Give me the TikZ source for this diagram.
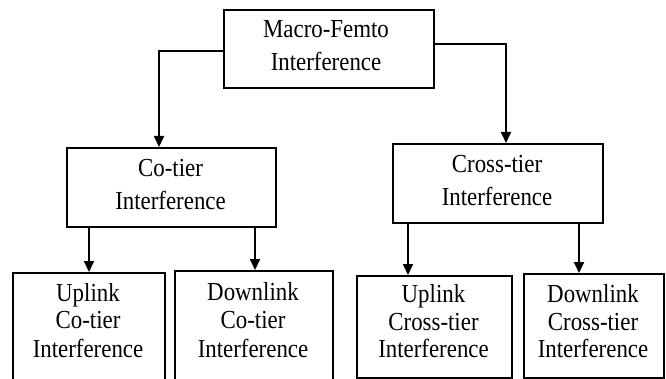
\documentclass[tikz,border=0pt]{standalone}
\usepackage{fontspec}
\setmainfont{Liberation Serif}[FakeStretch=0.88]
\usetikzlibrary{arrows.meta,calc}
\begin{document}
\begin{tikzpicture}[x=1pt,y=-1pt,
  box/.style={draw,line width=2pt,inner sep=0pt,anchor=north west},
  txt/.style={anchor=base,inner sep=0pt,font=\fontsize{26}{30}\selectfont},
  arr/.style={line width=2pt,-{Triangle[width=10pt,length=11pt]}}]
\useasboundingbox (0,0) rectangle (666,379);
\clip (0,0) rectangle (666,379);
% boxes
\node[box,minimum width=210pt,minimum height=78pt]  (top)  at (223,9)   {};
\node[box,minimum width=209pt,minimum height=79pt]  (cot)  at (66,147)  {};
\node[box,minimum width=210pt,minimum height=79pt]  (crt)  at (392,143) {};
\node[box,minimum width=152pt,minimum height=130pt] (ulco) at (12,272)  {};
\node[box,minimum width=158pt,minimum height=130pt] (dlco) at (174,270) {};
\node[box,minimum width=155pt,minimum height=102pt] (ulcr) at (356,275) {};
\node[box,minimum width=140pt,minimum height=104pt] (dlcr) at (523,273) {};
% texts
\node[txt] (t1a) at (326,38) {Macro-Femto};
\node[txt] (t1b) at (326,71) {Interference};
\node[txt] (t2a) at (170.5,177) {Co-tier};
\node[txt] (t2b) at (170.5,210) {Interference};
\node[txt] (t3a) at (497,173) {Cross-tier};
\node[txt] (t3b) at (497,206) {Interference};
\node[txt] (t4a) at (88,301) {Uplink};
\node[txt] (t4b) at (88,328) {Co-tier};
\node[txt] (t4c) at (88,357) {Interference};
\node[txt] (t5a) at (253,300) {Downlink};
\node[txt] (t5b) at (253,328) {Co-tier};
\node[txt] (t5c) at (253,357) {Interference};
\node[txt] (t6a) at (433.5,302) {Uplink};
\node[txt] (t6b) at (433.5,330) {Cross-tier};
\node[txt] (t6c) at (433.5,357) {Interference};
\node[txt] (t7a) at (593,302) {Downlink};
\node[txt] (t7b) at (593,330) {Cross-tier};
\node[txt] (t7c) at (593,357) {Interference};
% connectors
\draw[arr] ($(top.north west)+(0,42)$) -| ($(cot.north west)+(93,0)$);
\draw[arr] ($(top.north east)+(0,35)$) -| ($(crt.north west)+(114,0)$);
\draw[arr] ($(cot.south west)+(23,0)$) -- ($(ulco.north west)+(77,0)$);
\draw[arr] ($(cot.south west)+(189,0)$) -- ($(dlco.north west)+(81,0)$);
\draw[arr] ($(crt.south west)+(16,0)$) -- ($(ulcr.north west)+(52,0)$);
\draw[arr] ($(crt.south west)+(187,0)$) -- ($(dlcr.north west)+(56,0)$);
\end{tikzpicture}
\end{document}
